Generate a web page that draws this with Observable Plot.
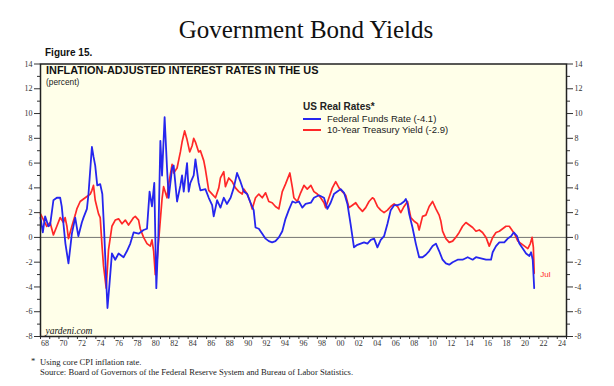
<!DOCTYPE html>
<html>
<head>
<meta charset="utf-8">
<script src="https://cdn.jsdelivr.net/npm/d3@7"></script>
<script src="https://cdn.jsdelivr.net/npm/@observablehq/plot@0.6"></script>
<style>
  html, body { margin: 0; padding: 0; background: #fff; }
  #wrap { position: relative; width: 614px; height: 386px; overflow: hidden; }
  .abs { position: absolute; white-space: nowrap; }
  #title { left: 0; width: 612px; top: 16px; text-align: center; font-family: "Liberation Serif", serif; font-size: 25px; color: #111; }
  #fig { left: 45px; top: 47px; font-family: "Liberation Sans", Arial, sans-serif; font-weight: bold; font-size: 10px; color: #111; }
  #chart { left: 0; top: 58px; }
  #legend { left: 303px; top: 101px; font-family: "Liberation Sans", Arial, sans-serif; color: #222; }
  #legend .hd { font-weight: bold; font-size: 10px; line-height: 12px; }
  #legend .row { font-size: 9.5px; line-height: 11.3px; display: flex; align-items: center; }
  #legend .sw { display: inline-block; width: 18px; height: 2px; margin-right: 6px; }
  .cap { font-family: "Liberation Serif", serif; font-size: 8.6px; color: #222; }
</style>
</head>
<body>
<div id="wrap">
  <div id="title" class="abs">Government Bond Yields</div>
  <div id="fig" class="abs">Figure 15.</div>
  <div id="chart" class="abs"></div>
  <div id="legend" class="abs"></div>
  <div class="abs cap" style="left:31px;top:356px;">*</div>
  <div class="abs cap" style="left:40px;top:357px;">Using core CPI inflation rate.</div>
  <div class="abs cap" style="left:40px;top:366.5px;">Source: Board of Governors of the Federal Reserve System and Bureau of Labor Statistics.</div>
</div>
<script>
// ---- Data: [decimal year, percent] ----
const fedFundsReal = [
  [1968.0,1.6],[1968.25,0.4],[1968.5,1.7],[1968.86,0.9],[1969.04,1.0],[1969.4,3.0],[1969.77,3.2],
  [1970.13,3.2],[1970.3,2.5],[1970.5,1.0],[1970.7,-0.5],[1971.03,-2.1],[1971.4,0.3],[1971.76,1.6],
  [1972.1,0.1],[1972.48,1.2],[1972.66,1.6],[1973.03,2.3],[1973.2,3.5],[1973.57,7.3],[1973.75,6.5],
  [1973.93,5.8],[1974.15,4.2],[1974.47,4.3],[1974.7,3.5],[1974.9,0.5],[1975.12,-3.5],[1975.26,-5.7],
  [1975.45,-4.0],[1975.74,-1.3],[1976.1,-1.8],[1976.46,-1.3],[1976.64,-1.4],[1977.0,-1.6],[1977.37,-1.1],
  [1977.73,-0.5],[1978.09,0.4],[1978.63,0.3],[1979.17,0.6],[1979.54,0.7],[1979.82,3.7],[1980.08,2.5],
  [1980.33,4.4],[1980.55,-4.1],[1980.77,0.0],[1980.99,7.8],[1981.17,5.0],[1981.45,9.7],[1981.71,5.6],
  [1981.89,3.2],[1982.26,5.6],[1982.43,5.8],[1982.8,2.9],[1983.16,4.2],[1983.34,5.0],[1983.52,3.7],
  [1983.88,6.0],[1984.06,3.7],[1984.24,4.4],[1984.6,5.0],[1984.79,6.3],[1985.14,4.4],[1985.33,3.8],
  [1985.87,3.9],[1986.23,3.2],[1986.6,2.6],[1986.77,1.7],[1987.14,3.0],[1987.5,2.4],[1987.86,3.2],
  [1988.2,2.7],[1988.6,3.2],[1988.94,4.0],[1989.3,5.2],[1989.67,4.5],[1990.03,3.7],[1990.4,3.5],
  [1990.76,2.8],[1991.1,2.2],[1991.3,0.8],[1991.66,0.7],[1992.03,0.3],[1992.39,-0.1],[1992.74,-0.3],
  [1993.1,-0.4],[1993.46,-0.3],[1993.83,0.0],[1994.2,0.5],[1994.55,1.5],[1994.9,2.2],[1995.3,2.9],
  [1995.64,2.8],[1996.0,2.9],[1996.37,2.4],[1996.73,2.7],[1997.3,2.8],[1997.63,3.2],[1998.17,3.4],
  [1998.72,3.2],[1999.09,2.3],[1999.44,2.8],[1999.8,3.5],[2000.17,3.7],[2000.53,3.9],[2000.9,3.6],
  [2001.26,2.7],[2001.6,1.1],[2001.97,-0.8],[2002.34,-0.6],[2002.7,-0.5],[2003.06,-0.4],[2003.43,-0.5],
  [2003.79,-0.2],[2004.15,-0.1],[2004.51,-0.8],[2004.87,-0.2],[2005.23,0.1],[2005.6,1.1],[2005.95,2.2],
  [2006.32,2.6],[2006.69,2.6],[2007.04,2.7],[2007.4,2.9],[2007.59,3.1],[2007.77,2.7],[2007.95,1.9],
  [2008.31,0.8],[2008.67,-0.5],[2009.03,-1.6],[2009.4,-1.6],[2009.76,-1.4],[2010.12,-1.1],[2010.49,-0.7],
  [2010.85,-0.5],[2011.2,-1.1],[2011.57,-1.8],[2011.93,-2.1],[2012.29,-2.2],[2012.66,-2.0],[2013.2,-1.8],
  [2013.74,-1.8],[2014.29,-1.6],[2014.83,-1.8],[2015.19,-1.6],[2015.73,-1.7],[2016.28,-1.8],[2016.82,-1.8],
  [2017.0,-1.2],[2017.36,-0.7],[2017.72,-0.4],[2018.26,-0.4],[2018.63,-0.1],[2018.99,0.1],[2019.28,0.4],
  [2019.64,0.1],[2019.89,-0.5],[2020.26,-0.9],[2020.62,-1.3],[2020.98,-1.5],[2021.16,-1.2],[2021.34,-1.8],
  [2021.5,-4.1]
];

const treasury10Real = [
  [1968.0,1.9],[1968.68,0.9],[1969.04,1.2],[1969.4,0.2],[1969.77,0.9],[1970.13,1.6],[1970.49,1.2],
  [1970.67,1.6],[1970.86,0.9],[1971.03,-0.1],[1971.4,0.9],[1971.76,1.8],[1971.94,2.3],[1972.3,2.9],
  [1972.66,3.1],[1973.03,3.3],[1973.39,3.5],[1973.57,3.8],[1973.74,4.2],[1973.93,3.0],[1974.29,1.9],
  [1974.47,1.6],[1974.66,-0.6],[1974.83,-2.3],[1975.12,-4.1],[1975.37,-1.0],[1975.74,0.9],[1976.1,1.4],
  [1976.46,1.5],[1976.83,1.1],[1977.19,1.4],[1977.54,1.0],[1977.91,1.4],[1978.09,1.6],[1978.27,1.7],
  [1978.63,1.4],[1978.81,0.7],[1979.17,0.0],[1979.54,-0.5],[1979.9,-0.7],[1980.08,-0.2],[1980.26,-1.1],
  [1980.44,-3.0],[1980.63,-1.9],[1980.8,-0.3],[1981.17,3.1],[1981.34,4.1],[1981.71,3.2],[1981.89,4.3],
  [1982.26,5.9],[1982.43,5.2],[1982.8,5.6],[1983.16,6.9],[1983.34,7.7],[1983.62,8.6],[1983.88,7.9],
  [1984.17,6.9],[1984.43,7.4],[1984.6,8.0],[1984.79,7.7],[1985.14,6.9],[1985.33,7.0],[1985.69,6.2],
  [1985.87,5.5],[1986.06,4.6],[1986.23,3.8],[1986.6,3.5],[1986.96,3.2],[1987.32,4.0],[1987.5,4.8],
  [1987.86,5.3],[1988.04,4.1],[1988.4,4.8],[1988.77,4.5],[1989.13,4.0],[1989.49,3.7],[1989.86,3.5],
  [1990.03,3.9],[1990.4,3.5],[1990.76,2.8],[1990.94,2.3],[1991.3,3.2],[1991.66,3.5],[1992.03,3.2],
  [1992.39,3.6],[1992.74,2.9],[1993.1,2.8],[1993.46,2.5],[1993.83,2.3],[1994.2,3.7],[1994.55,4.3],
  [1995.02,5.2],[1995.3,4.0],[1995.46,3.2],[1995.83,2.9],[1996.19,3.6],[1996.55,4.2],[1996.91,3.9],
  [1997.3,4.2],[1997.63,3.7],[1998.0,3.5],[1998.36,3.2],[1998.72,2.8],[1998.9,2.4],[1999.26,3.2],
  [1999.63,4.0],[1999.99,4.5],[2000.35,4.0],[2000.71,3.7],[2001.07,3.4],[2001.43,2.4],[2001.8,2.6],
  [2002.16,2.8],[2002.52,2.4],[2002.89,2.1],[2003.24,2.4],[2003.6,2.9],[2003.97,3.2],[2004.15,3.1],
  [2004.51,2.5],[2004.87,2.2],[2005.23,2.0],[2005.6,2.2],[2005.95,2.5],[2006.32,2.7],[2006.69,2.5],
  [2007.04,2.0],[2007.4,2.5],[2007.77,2.9],[2008.13,1.6],[2008.49,1.3],[2008.86,1.1],[2009.03,0.6],
  [2009.4,1.7],[2009.76,1.8],[2010.12,2.5],[2010.49,2.9],[2010.85,2.3],[2011.2,1.8],[2011.39,1.3],
  [2011.57,0.5],[2011.93,-0.1],[2012.29,-0.4],[2012.66,-0.3],[2013.0,0.0],[2013.37,0.4],[2013.74,0.9],
  [2014.1,1.2],[2014.46,1.0],[2014.83,0.8],[2015.19,0.5],[2015.55,0.6],[2015.9,0.4],[2016.28,0.0],
  [2016.63,-0.7],[2017.0,0.0],[2017.36,0.4],[2017.72,0.5],[2018.08,0.7],[2018.44,0.9],[2018.8,0.9],
  [2018.99,0.7],[2019.36,0.3],[2019.73,-0.3],[2020.09,-0.5],[2020.45,-0.7],[2020.81,-0.9],[2021.08,-0.5],
  [2021.27,0.0],[2021.41,-0.8],[2021.5,-2.9]
];

const yMajorTicks = d3.range(-8, 15, 2);
const yMinorTicks = d3.range(-7, 14, 2);
const xYearTicks = d3.range(1968, 2026);
const xLabelYears = d3.range(1968, 2025, 2);

const legendItems = [
  {label: "Federal Funds Rate (-4.1)", color: "#2626EE"},
  {label: "10-Year Treasury Yield (-2.9)", color: "#FF2828"}
];

const ff = fedFundsReal.map(([t, v]) => ({t, v}));
const ty = treasury10Real.map(([t, v]) => ({t, v}));

const sans = "Liberation Sans, Arial, sans-serif";
const serif = "Liberation Serif, Times New Roman, serif";

const chart = Plot.plot({
  width: 614,
  height: 298,
  marginLeft: 40,
  marginRight: 48,
  marginTop: 5.5,
  marginBottom: 20,
  x: {domain: [1968, 2025], axis: null},
  y: {domain: [-8, 14], axis: null},
  style: {fontFamily: serif, fontSize: "8px", color: "#333", background: "transparent", overflow: "visible"},
  marks: [
    Plot.frame({fill: "#FFFFE9", stroke: "none"}),
    Plot.ruleY([0], {stroke: "#666", strokeWidth: 0.9}),
    Plot.line(ty, {x: "t", y: "v", stroke: legendItems[1].color, strokeWidth: 1.7}),
    Plot.line(ff, {x: "t", y: "v", stroke: legendItems[0].color, strokeWidth: 1.8}),
    Plot.text([ty[ty.length - 1]], {x: "t", y: "v", text: () => "Jul", dx: 6, dy: 1, textAnchor: "start", fill: legendItems[1].color, fontFamily: sans, fontSize: 8}),
    // left axis
    Plot.axisY({anchor: "left", label: null, ticks: yMajorTicks, tickSize: 6, tickPadding: 2, fontSize: 8, fontFamily: serif, tickFormat: d => String(d)}),
    Plot.axisY({anchor: "left", label: null, ticks: yMinorTicks, tickSize: 3, tickFormat: () => ""}),
    // right axis
    Plot.axisY({anchor: "right", label: null, ticks: yMajorTicks, tickSize: 6, tickPadding: 2, fontSize: 8, fontFamily: serif, tickFormat: d => String(d)}),
    Plot.axisY({anchor: "right", label: null, ticks: yMinorTicks, tickSize: 3, tickFormat: () => ""}),
    // bottom axis: year ticks + mid-year labels
    Plot.axisX({anchor: "bottom", label: null, ticks: xYearTicks, tickSize: 3, tickFormat: () => ""}),
    Plot.axisX({anchor: "bottom", label: null, ticks: xLabelYears.map(y => y + 0.5), tickSize: 0, tickPadding: 4, fontSize: 8, fontFamily: serif,
      tickFormat: d => String(Math.floor(d) % 100).padStart(2, "0")}),
    Plot.frame({stroke: "#222", strokeWidth: 1.5, fill: "none"}),
    Plot.text(["INFLATION-ADJUSTED INTEREST RATES IN THE US"], {frameAnchor: "top-left", dx: 5.5, dy: 2.5, textAnchor: "start", lineAnchor: "top", fontFamily: sans, fontWeight: "bold", fontSize: 10.9, fill: "#111"}),
    Plot.text(["(percent)"], {frameAnchor: "top-left", dx: 5.5, dy: 15.5, textAnchor: "start", lineAnchor: "top", fontFamily: sans, fontSize: 8.3, fill: "#222"}),
    Plot.text(["yardeni.com"], {frameAnchor: "bottom-left", dx: 5, dy: -3, textAnchor: "start", lineAnchor: "bottom", fontFamily: serif, fontStyle: "italic", fontSize: 9.5, fill: "#111"})
  ]
});
document.getElementById("chart").appendChild(chart);

const lg = document.getElementById("legend");
const hd = document.createElement("div");
hd.className = "hd";
hd.textContent = "US Real Rates*";
lg.appendChild(hd);
for (const item of legendItems) {
  const row = document.createElement("div");
  row.className = "row";
  const sw = document.createElement("span");
  sw.className = "sw";
  sw.style.background = item.color;
  row.appendChild(sw);
  const tx = document.createElement("span");
  tx.textContent = item.label;
  row.appendChild(tx);
  lg.appendChild(row);
}
</script>
</body>
</html>
